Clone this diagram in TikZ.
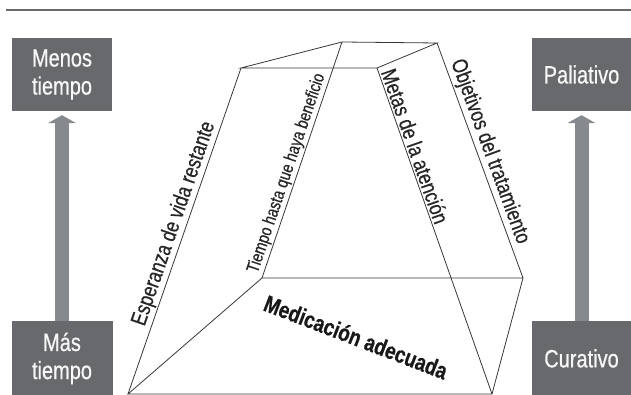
\documentclass[tikz,border=0pt]{standalone}
\usepackage{fontspec}
\setmainfont{Liberation Sans}
\newfontfamily\narrowfont[FakeStretch=0.8, FakeBold=0.6]{Liberation Sans}
\usetikzlibrary{positioning,arrows.meta}
\definecolor{boxgray}{RGB}{104,105,108}
\definecolor{arrowgray}{RGB}{134,137,141}
\definecolor{facetgray}{RGB}{55,55,55}
\definecolor{rulegray}{RGB}{105,105,105}

\begin{document}
\begin{tikzpicture}[x=1pt, y=-1pt,
  sidebox/.style={fill=boxgray, text=white!94!gray, minimum width=100pt, minimum height=73pt, inner sep=0pt, align=center, font=\narrowfont\fontsize{25}{28}\selectfont},
  uparrow/.style={draw=arrowgray, line width=14pt, -{Triangle[width=28pt,length=8pt]}, shorten >=4pt},
  facet/.style={draw=facetgray, line width=0.8pt},
  sidelabel/.style={sloped, above, inner sep=1.5pt, text=black!85, font=\narrowfont\fontsize{22}{26}\selectfont}]
\useasboundingbox (0,0) rectangle (631,395);
\draw[rulegray, line width=2pt] (6,10) -- (631,10);

% left column: time
\node (menos) [sidebox] at (62,74.5) {Menos\\tiempo};
\node (mas) [sidebox, minimum width=101pt, minimum height=74pt, below=210pt of menos] {Más\\tiempo};
\draw[uparrow] (mas) -- (menos);

% right column: aim
\node (paliativo) [sidebox, minimum width=99pt] at (581.5,74.5) {Paliativo};
\node (curativo) [sidebox, minimum height=74pt, below=210pt of paliativo] {Curativo};
\draw[uparrow] (curativo) -- (paliativo);

% frustum corners
\coordinate (tbl) at (342,42);
\coordinate (tbr) at (437,43);
\coordinate (tfl) at (241,68);
\coordinate (tfr) at (377,68);
\coordinate (ml) at (262,278);
\coordinate (mr) at (523,278);
\coordinate (bl) at (128,394);
\coordinate (br) at (492,394);

\draw[facet] (tfl) -- (tbl) -- (tbr) -- (tfr) -- cycle;
\draw[facet] (bl) -- (tfl) node[sidelabel, pos=0.51] {Esperanza de vida restante};
\draw[facet] (ml) -- (tbl) node[sidelabel, pos=0.43, font=\narrowfont\fontsize{17.8}{21}\selectfont] {Tiempo hasta que haya beneficio};
\draw[facet] (tfr) -- (br) node[sidelabel, pos=0.25] {Metas de la atención};
\draw[facet] (tbr) -- (mr) node[sidelabel, pos=0.48] {Objetivos del tratamiento};
\draw[facet] (bl) -- (ml) -- (mr) -- (br) -- cycle;

\node (medicacion) [rotate=-21, text=black!90, font=\narrowfont\bfseries\fontsize{23.5}{27}\selectfont] at (356,337) {Medicación adecuada};
\end{tikzpicture}
\end{document}
